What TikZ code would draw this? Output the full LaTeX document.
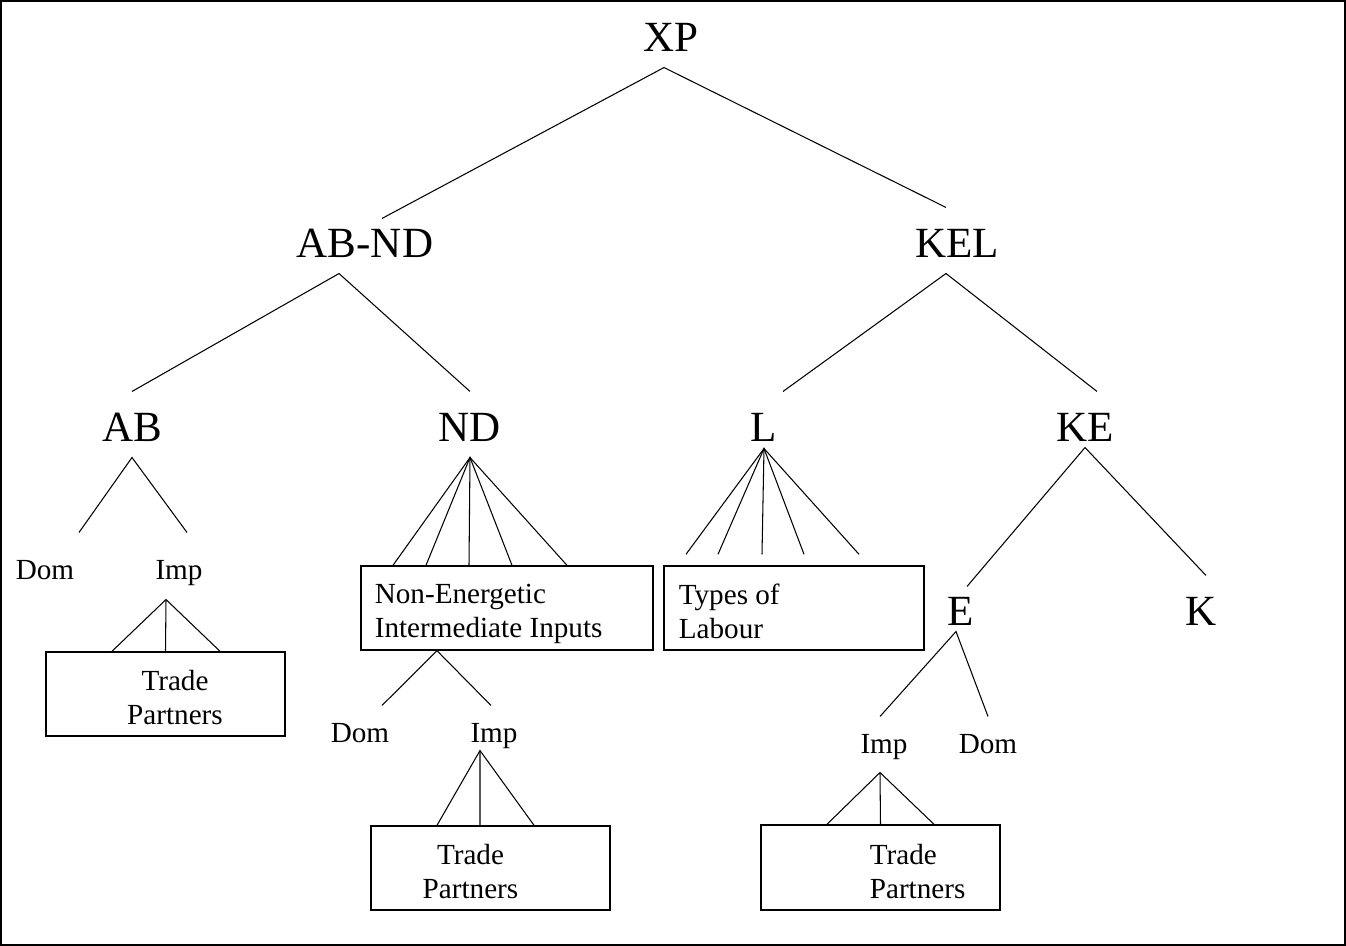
\documentclass[tikz,border=0pt]{standalone}
\usepackage{fontspec}
\setmainfont{Liberation Serif}
\usetikzlibrary{
positioning
}

\begin{document}
\begin{tikzpicture}[line width=0.6pt]
		\tikzset{lvl/.style={font=\fontsize{24.5pt}{28pt}\selectfont,inner sep=0pt,anchor=base,text height=1cm,text depth=0.3cm}}
		\tikzset{leaf/.style={font=\fontsize{16.6pt}{19.5pt}\selectfont,inner sep=0pt,anchor=base,text height=0.74cm,text depth=0.36cm}}
		\tikzset{tradebox/.style={draw,line width=0.8pt,inner sep=0pt,minimum width=4.78cm,minimum height=1.68cm}}
		\tikzset{boxtext/.style={font=\fontsize{16.6pt}{19.5pt}\selectfont,inner sep=0pt,align=left}}
		
		\useasboundingbox (0,0) rectangle (26.92,-18.92);
		\draw[line width=1pt] (0.02,-0.02) rectangle (26.9,-18.9);
		
		\node[lvl] (XP) at (13.42,-1.04) {XP};
		\node[lvl,text height=0.78cm] (ABND) at (7.30,-5.16) {AB-ND};
		\node[lvl] (KEL) at (19.14,-5.16) {KEL};
		
		\node[lvl] (AB) at (2.64,-8.84) {AB};
		\node[lvl] (ND) at (9.40,-8.84) {ND};
		\node[lvl,text depth=0.12cm] (L) at (15.28,-8.84) {L};
		\node[lvl,text depth=0.1cm] (KE) at (21.70,-8.84) {KE};
		\node[lvl,text height=0.78cm,text depth=0.1cm] (E) at (19.22,-12.52) {E};
		\node[lvl] (K) at (24.02,-12.52) {K};
		
		\node[leaf,text height=0.94cm] (ABdom) at (0.90,-11.60) {Dom};
		\node[leaf,text height=0.94cm,text depth=0.38cm] (ABimp) at (3.58,-11.60) {Imp};
		\node[leaf] (NDdom) at (7.20,-14.86) {Dom};
		\node[leaf,text depth=0.14cm] (NDimp) at (9.88,-14.86) {Imp};
		\node[leaf] (Eimp) at (17.68,-15.08) {Imp};
		\node[leaf] (Edom) at (19.76,-15.08) {Dom};
		
		\node[tradebox] (ABpart) at (3.31,-13.88) {};
		\node[tradebox,minimum width=5.84cm] (inputs) at (10.14,-12.16) {};
		\node[tradebox] (NDpart) at (9.81,-17.36) {};
		\node[tradebox,minimum width=5.2cm] (labour) at (15.88,-12.16) {};
		\node[tradebox,minimum height=1.7cm] (Epart) at (17.61,-17.35) {};
		
		\node[boxtext,align=center,below=0.36cm of ABpart.north,xshift=0.19cm] (ABparttext) {Trade\\Partners};
		\node[boxtext,below right=0.36cm and 0.28cm of inputs.north west] (inputstext) {Non-Energetic\\Intermediate Inputs};
		\node[boxtext,align=center,below=0.36cm of NDpart.north,xshift=-0.4cm] (NDparttext) {Trade\\Partners};
		\node[boxtext,below right=0.36cm and 0.3cm of labour.north west] (labourtext) {Types of\\Labour};
		\node[boxtext,below right=0.38cm and 2.18cm of Epart.north west] (Eparttext) {Trade\\Partners};
		
		\draw ([xshift=0.34cm]ABND.north) -- ([xshift=-0.14cm]XP.south) -- ([xshift=-0.22cm]KEL.north);
		\draw (AB.north) -- ([xshift=-0.52cm]ABND.south) -- (ND.north);
		\draw ([xshift=0.38cm]L.north) -- ([xshift=-0.22cm]KEL.south) -- ([xshift=0.24cm]KE.north);
		
		\draw ([xshift=0.68cm]ABdom.north) -- (AB.south) -- ([xshift=0.16cm]ABimp.north);
		\draw ([xshift=-1.07cm]ABpart.north) -- ([xshift=-0.26cm]ABimp.south) -- ([xshift=1.09cm]ABpart.north);
		\draw ([xshift=-0.26cm]ABimp.south) -- (ABpart.north);
		
		\draw ([xshift=-2.28cm]inputs.north) -- (ND.south) -- ([xshift=1.20cm]inputs.north);
		\draw ([xshift=-1.62cm]inputs.north) -- (ND.south) -- ([xshift=0.10cm]inputs.north);
		\draw (ND.south) -- ([xshift=-0.76cm]inputs.north);
		\draw ([xshift=0.44cm]NDdom.north) -- ([xshift=-1.40cm]inputs.south) -- ([xshift=-0.06cm]NDimp.north);
		\draw ([xshift=-1.07cm]NDpart.north) -- ([xshift=-0.28cm]NDimp.south) -- ([xshift=0.87cm]NDpart.north);
		\draw ([xshift=-0.28cm]NDimp.south) -- ([xshift=-0.21cm]NDpart.north);
		
		\draw ([xshift=-2.16cm,yshift=0.22cm]labour.north) -- (L.south) -- ([xshift=1.30cm,yshift=0.22cm]labour.north);
		\draw ([xshift=-1.52cm,yshift=0.22cm]labour.north) -- (L.south) -- ([xshift=0.20cm,yshift=0.22cm]labour.north);
		\draw (L.south) -- ([xshift=-0.64cm,yshift=0.22cm]labour.north);
		
		\draw ([xshift=0.12cm]E.north) -- (KE.south) -- ([xshift=0.1cm]K.north);
		\draw ([xshift=-0.08cm]Eimp.north) -- ([xshift=-0.1cm]E.south) -- (Edom.north);
		\draw ([xshift=-1.07cm]Epart.north) -- ([xshift=-0.08cm]Eimp.south) -- ([xshift=1.07cm]Epart.north);
		\draw ([xshift=-0.08cm]Eimp.south) -- (Epart.north);
	\end{tikzpicture}
\end{document}
